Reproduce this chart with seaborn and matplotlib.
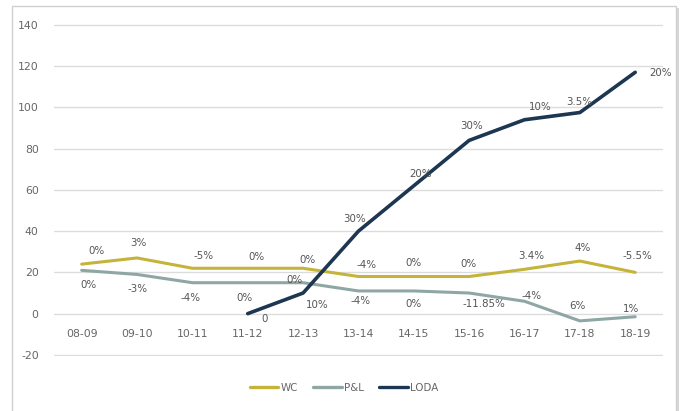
import numpy as np
import pandas as pd
import matplotlib
matplotlib.use("Agg")
import matplotlib.pyplot as plt
import matplotlib.patches as mpatches
import seaborn as sns

years = ["08-09", "09-10", "10-11", "11-12", "12-13", "13-14", "14-15", "15-16", "16-17", "17-18", "18-19"]
wc = [24, 27, 22, 22, 22, 18, 18, 18, 21.5, 25.5, 20]
pl = [21, 19, 15, 15, 15, 11, 11, 10, 6, -3.5, -1.5]
loda = [np.nan, np.nan, np.nan, 0, 10, 40, 62, 84, 94, 97.5, 117]

wc_labels = ["0%", "3%", "-5%", "0%", "0%", "-4%", "0%", "0%", "3.4%", "4%", "-5.5%"]
pl_labels = ["0%", "-3%", "-4%", "0%", "0%", "-4%", "0%", "-11.85%", "-4%", "6%", "1%"]
loda_labels = ["", "", "", "0", "10%", "30%", "20%", "30%", "10%", "3.5%", "20%"]

series_names = ["WC", "P&L", "LODA"]
colors = ["#c4b43c", "#8fa7a4", "#1d3651"]

rows = []
for name, vals in zip(series_names, [wc, pl, loda]):
    for i, v in enumerate(vals):
        rows.append({"x": i, "value": v, "series": name})
df = pd.DataFrame(rows)

sns.set_theme(style="white")
plt.rcParams["font.family"] = ["DejaVu Sans"]
plt.rcParams["axes.unicode_minus"] = False

fig = plt.figure(figsize=(6.88, 4.11), dpi=100)
# outer frame with shadow
shadow = mpatches.Rectangle((0.022, -0.05), 0.965, 1.03, transform=fig.transFigure,
                            facecolor="#bdbdbd", edgecolor="none", zorder=-3, alpha=0.6)
frame = mpatches.Rectangle((0.018, -0.04), 0.965, 1.026, transform=fig.transFigure,
                           facecolor="white", edgecolor="#d0d0d0", linewidth=1.0, zorder=-2)
fig.patches.extend([shadow, frame])

ax = fig.add_axes([0.0785, 0.134, 0.885, 0.808])
ax.patch.set_alpha(0)

sns.lineplot(data=df, x="x", y="value", hue="series", palette=colors,
             hue_order=series_names, ax=ax, legend=False, sort=False)
for line, lw in zip(ax.get_lines(), [2.2, 2.2, 2.6]):
    line.set_linewidth(lw)

ax.set_xlim(-0.5, 10.5)
ax.set_ylim(-20.5, 140.5)
ax.set_yticks(np.arange(-20, 141, 20))
ax.yaxis.grid(True, color="#dcdcdc", linewidth=1.0)
ax.set_axisbelow(True)
for s in ["top", "right", "left"]:
    ax.spines[s].set_visible(False)
ax.spines["bottom"].set_position(("data", 0))
ax.spines["bottom"].set_color("none")
ax.set_xticks(range(len(years)))
ax.set_xticklabels(years)
ax.tick_params(axis="x", length=0, pad=11, labelsize=7.8, labelcolor="#666666")
ax.tick_params(axis="y", length=0, pad=11, labelsize=7.8, labelcolor="#666666")
ax.set_xlabel("")
ax.set_ylabel("")

txt_kw = dict(textcoords="offset pixels", fontsize=7.4, color="#555555", ha="center", va="center")

wc_off = [(15, 13), (1, 15), (11, 12), (9, 11), (4, 8), (8, 12), (0, 14), (-1, 13), (7, 13), (3, 13), (2, 16)]
pl_off = [(7, -15), (1, -15), (-2, -15), (-3, -15), (-9, 3), (2, -10), (0, -13), (15, -11), (7, 5), (-2, 15), (-4, 8)]
loda_off = [(0, 0), (0, 0), (0, 0), (17, -5), (14, -12), (-4, 12), (7, 12), (2, 14), (16, 13), (-1, 11), (25, -1)]

for vals, labs, offs in [(wc, wc_labels, wc_off), (pl, pl_labels, pl_off), (loda, loda_labels, loda_off)]:
    for i, (v, lab, off) in enumerate(zip(vals, labs, offs)):
        if lab and not np.isnan(v):
            ax.annotate(lab, (i, v), xytext=off, **txt_kw)

handles = [plt.Line2D([], [], color=c, lw=2.4) for c in colors]
fig.legend(handles, series_names, loc="center", bbox_to_anchor=(0.5, 1 - 388 / 411), ncol=3,
           frameon=False, fontsize=7.4, handlelength=2.8, handletextpad=0.2, columnspacing=1.5,
           labelcolor="#666666")

fig.savefig("out.png", dpi=100)
